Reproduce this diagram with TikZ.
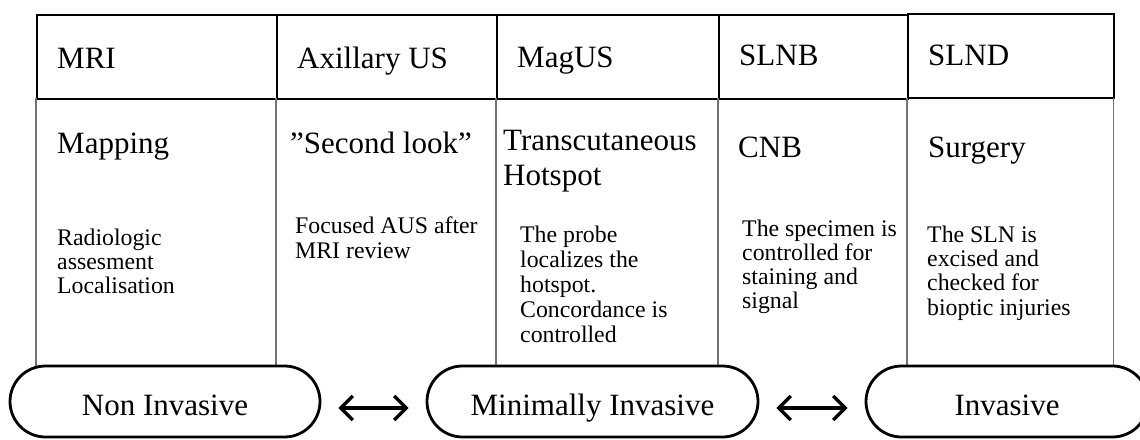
\documentclass[tikz,border=0pt]{standalone}
\usepackage{fontspec}
\setmainfont{Liberation Serif}
\usetikzlibrary{arrows.meta,shapes.misc}
\begin{document}
\begin{tikzpicture}[x=1pt,y=-1pt,
  headbox/.style={draw=black,line width=1.8pt,minimum width=#1,minimum height=84pt,anchor=north west,inner sep=0pt},
  bodycol/.style={minimum width=#1,minimum height=268pt,anchor=north west,inner sep=0pt},
  bodyline/.style={draw=black!55,line width=1.1pt},
  big/.style={font=\fontsize{31}{35}\selectfont,anchor=base west,inner sep=0pt,align=left},
  small/.style={font=\fontsize{23.8}{#1}\selectfont,anchor=base west,inner sep=0pt,align=left},
  oval/.style={draw=black,line width=2.8pt,rounded rectangle,minimum height=71pt,inner sep=0pt,text height=27pt,text depth=0pt,font=\fontsize{31}{35}\selectfont},
  dblarrow/.style={{Straight Barb[length=12pt,width=24pt,line width=3.4pt]}-{Straight Barb[length=12pt,width=24pt,line width=3.4pt]},line width=3.4pt,shorten <=17pt,shorten >=17pt}
]
\useasboundingbox (0,0) rectangle (1140,439);
% header boxes
\node[headbox=240pt] (hA) at (36,14) {};
\node[headbox=220pt] (hB) at (276,14) {};
\node[headbox=222pt] (hC) at (496,14) {};
\node[headbox=189pt] (hD) at (718,14) {};
\node[headbox=206pt] (hE) at (907,13) {};
% body columns
\node[bodycol=240pt] (bA) at (36,98) {};
\node[bodycol=220pt] (bB) at (276,98) {};
\node[bodycol=222pt] (bC) at (496,98) {};
\node[bodycol=189pt] (bD) at (718,98) {};
\node[bodycol=206pt] (bE) at (907,98) {};
\draw[bodyline] (bA.north west) -- (bA.south west);
\draw[bodyline] (bB.north west) -- (bB.south west);
\draw[bodyline] (bC.north west) -- (bC.south west);
\draw[bodyline] (bD.north west) -- (bD.south west);
\draw[bodyline] (bE.north west) -- (bE.south west);
\draw[bodyline] (bE.north east) -- (bE.south east);
% header texts
\node[big] (tA) at (57,68) {MRI};
\node[big] (tB) at (297,68) {Axillary US};
\node[big] (tC) at (517,67) {MagUS};
\node[big] (tD) at (739,65) {SLNB};
\node[big] (tE) at (928,65) {SLND};
% second row
\node[big] (sA) at (57,153) {Mapping};
\node[big] (sB) at (290,153) {”Second look”};
\node[big] (sC) at (503,185) {Transcutaneous\\Hotspot};
\node[big] (sD) at (738,157) {CNB};
\node[big] (sE) at (928,157) {Surgery};
% descriptions (anchored at last line's baseline)
\node[small=24] (dA) at (57,293) {Radiologic\\assesment\\Localisation};
\node[small=25] (dB) at (295,258) {Focused AUS after\\MRI review};
\node[small=25] (dC) at (520,342) {The probe\\localizes the\\hotspot.\\Concordance is\\controlled};
\node[small=23.7] (dD) at (742,308) {The specimen is\\controlled for\\staining and\\signal};
\node[small=24.3] (dE) at (927,315) {The SLN is\\excised and\\checked for\\bioptic injuries};
% ovals
\node[oval,minimum width=310pt] (nonInv) at (165,401.5) {Non Invasive};
\node[oval,minimum width=331pt] (minInv) at (592.5,401.5) {Minimally Invasive};
\node[oval,minimum width=282pt] (inv) at (1007,401.5) {Invasive};
% arrows
\draw[dblarrow] ([yshift=-6.5pt]nonInv.east) -- ([yshift=-6.5pt]minInv.west);
\draw[dblarrow] ([yshift=-6.5pt]minInv.east) -- ([yshift=-6.5pt]inv.west);
\end{tikzpicture}
\end{document}
